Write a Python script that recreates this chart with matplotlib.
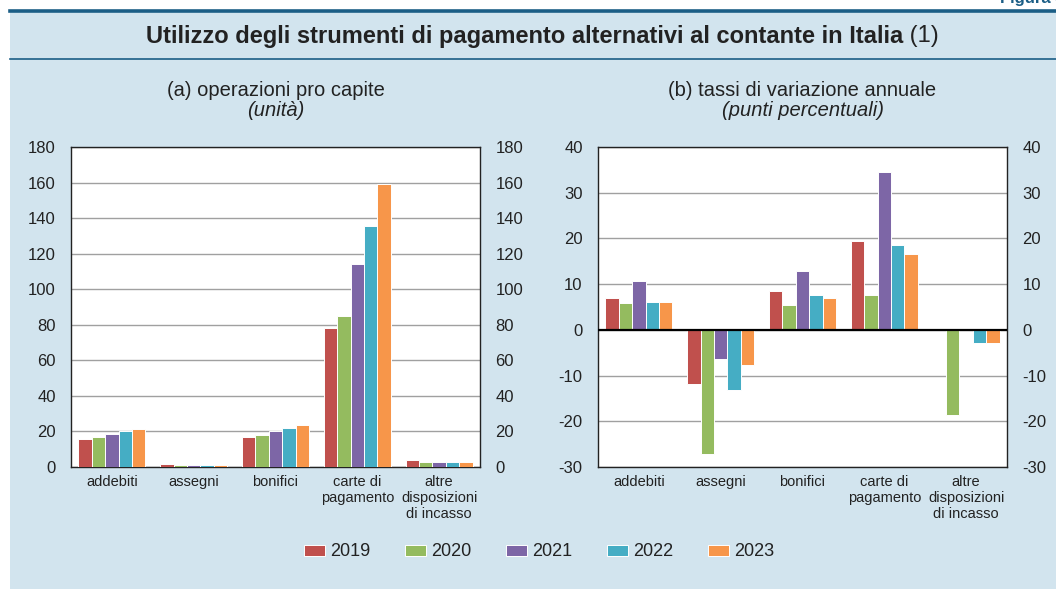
import numpy as np
import matplotlib
matplotlib.use("Agg")
import matplotlib.pyplot as plt
from matplotlib.patches import Rectangle
from matplotlib.ticker import FuncFormatter

plt.rcParams['font.family'] = ['Liberation Sans', 'DejaVu Sans']
plt.rcParams['axes.unicode_minus'] = False

# dati
categorie = ['addebiti', 'assegni', 'bonifici', 'carte di\npagamento',
             'altre\ndisposizioni\ndi incasso']
anni = ['2019', '2020', '2021', '2022', '2023']
colori = ['#c0504d', '#94bb5f', '#7d66a6', '#45adc4', '#f7964a']

# (a) operazioni pro capite (unità)
op_2019 = [16.0, 1.7, 16.9, 78.4, 3.8]
op_2020 = [16.9, 1.0, 18.0, 84.8, 3.0]
op_2021 = [18.8, 1.0, 20.5, 114.4, 3.0]
op_2022 = [20.1, 1.0, 22.2, 135.8, 3.0]
op_2023 = [21.2, 0.9, 23.4, 159.2, 2.6]

# (b) tassi di variazione annuale (punti percentuali)
var_2019 = [7.0, -11.9, 8.5, 19.5, 0.0]
var_2020 = [5.9, -27.1, 5.5, 7.7, -18.6]
var_2021 = [10.7, -6.3, 12.8, 34.5, 0.0]
var_2022 = [6.0, -13.2, 7.6, 18.5, -2.8]
var_2023 = [6.1, -7.6, 6.9, 16.6, -2.9]

serie_a = [op_2019, op_2020, op_2021, op_2022, op_2023]
serie_b = [var_2019, var_2020, var_2021, var_2022, var_2023]

BG = '#d2e4ee'
W, H = 1056, 589
fig = plt.figure(figsize=(W / 100, H / 100), dpi=100)
fig.patch.set_facecolor('white')

# sfondo e fascia del titolo
fig.patches.append(Rectangle((10 / W, 0), 1, 1 - 11 / H, transform=fig.transFigure,
                             facecolor=BG, edgecolor='none', zorder=-10))
fig.lines.append(plt.Line2D([10 / W, 1], [1 - 11 / H] * 2, transform=fig.transFigure,
                            color='#1b5e86', lw=2.6, zorder=-5))
fig.lines.append(plt.Line2D([10 / W, 1], [1 - 58.5 / H] * 2, transform=fig.transFigure,
                            color='#1b5e86', lw=1.2, zorder=-5))
fig.text(1000 / W, 1 - 3 / H, 'Figura 5.', ha='left', va='baseline', fontsize=12,
         fontweight='bold', color='#1b5e86')

t1 = fig.text(0.5, 1 - 36 / H, 'Utilizzo degli strumenti di pagamento alternativi al contante in Italia',
              ha='center', va='center', fontsize=17, fontweight='bold', color='#222222')
t2 = fig.text(0.5, 1 - 36 / H, ' (1)', ha='left', va='center', fontsize=17, color='#222222')
fig.canvas.draw()
r = fig.canvas.get_renderer()
w1 = t1.get_window_extent(r).width
w2 = t2.get_window_extent(r).width
left = (W - w1 - w2) / 2 + 14
t1.set_ha('left')
t1.set_x(left / W)
t2.set_x((left + w1) / W)


def pannello(ax, serie, ylim, step, zero_line):
    x = np.arange(len(categorie))
    bw = 0.164
    for i, vals in enumerate(serie):
        ax.bar(x + (i - 2) * bw, vals, bw, color=colori[i], edgecolor='white',
               linewidth=0.7, zorder=3, label=anni[i])
    ax.set_xlim(-0.5, len(categorie) - 0.5)
    ax.set_ylim(*ylim)
    ticks = np.arange(ylim[0], ylim[1] + 1, step)
    ax.set_yticks(ticks)
    ax.yaxis.set_major_formatter(FuncFormatter(lambda v, p: '%d' % v))
    ax.grid(axis='y', color='#a0a0a0', lw=1.0, zorder=1)
    ax.set_axisbelow(True)
    ax.set_xticks(x)
    ax.set_xticklabels(categorie, fontsize=10.5, color='#222222', linespacing=1.15)
    ax.tick_params(axis='x', length=0, pad=6)
    ax.tick_params(axis='y', length=0, pad=11, labelsize=12, labelcolor='#222222',
                   left=True, right=True, labelleft=True, labelright=True)
    for s in ax.spines.values():
        s.set_color('#222222')
        s.set_linewidth(1.0)
    if zero_line:
        ax.axhline(0, color='black', lw=1.6, zorder=4)


ax1 = fig.add_axes([71 / W, 1 - 467 / H, 409 / W, 320 / H])
ax2 = fig.add_axes([598 / W, 1 - 467 / H, 409 / W, 320 / H])
pannello(ax1, serie_a, (0, 180), 20, False)
pannello(ax2, serie_b, (-30, 40), 10, True)

for ax, t, u in [(ax1, '(a) operazioni pro capite', 'unità'),
                 (ax2, '(b) tassi di variazione annuale', 'punti percentuali')]:
    ax.text(0.5, 1 + 56 / 320, t, transform=ax.transAxes, ha='center', va='center',
            fontsize=14.5, color='#222222')
    ax.text(0.5, 1 + 37 / 320, '(' + u + ')', transform=ax.transAxes, ha='center',
            va='center', fontsize=14.5, style='italic', color='#222222')

handles, labels = ax1.get_legend_handles_labels()
fig.legend(handles, labels, loc='center', bbox_to_anchor=(539 / W, 1 - 552 / H), ncol=5,
           frameon=False, fontsize=13, handlelength=1.17, handleheight=0.55,
           handletextpad=0.3, columnspacing=1.9, labelcolor='#222222')

fig.savefig('out.png', dpi=100, facecolor=fig.get_facecolor())
